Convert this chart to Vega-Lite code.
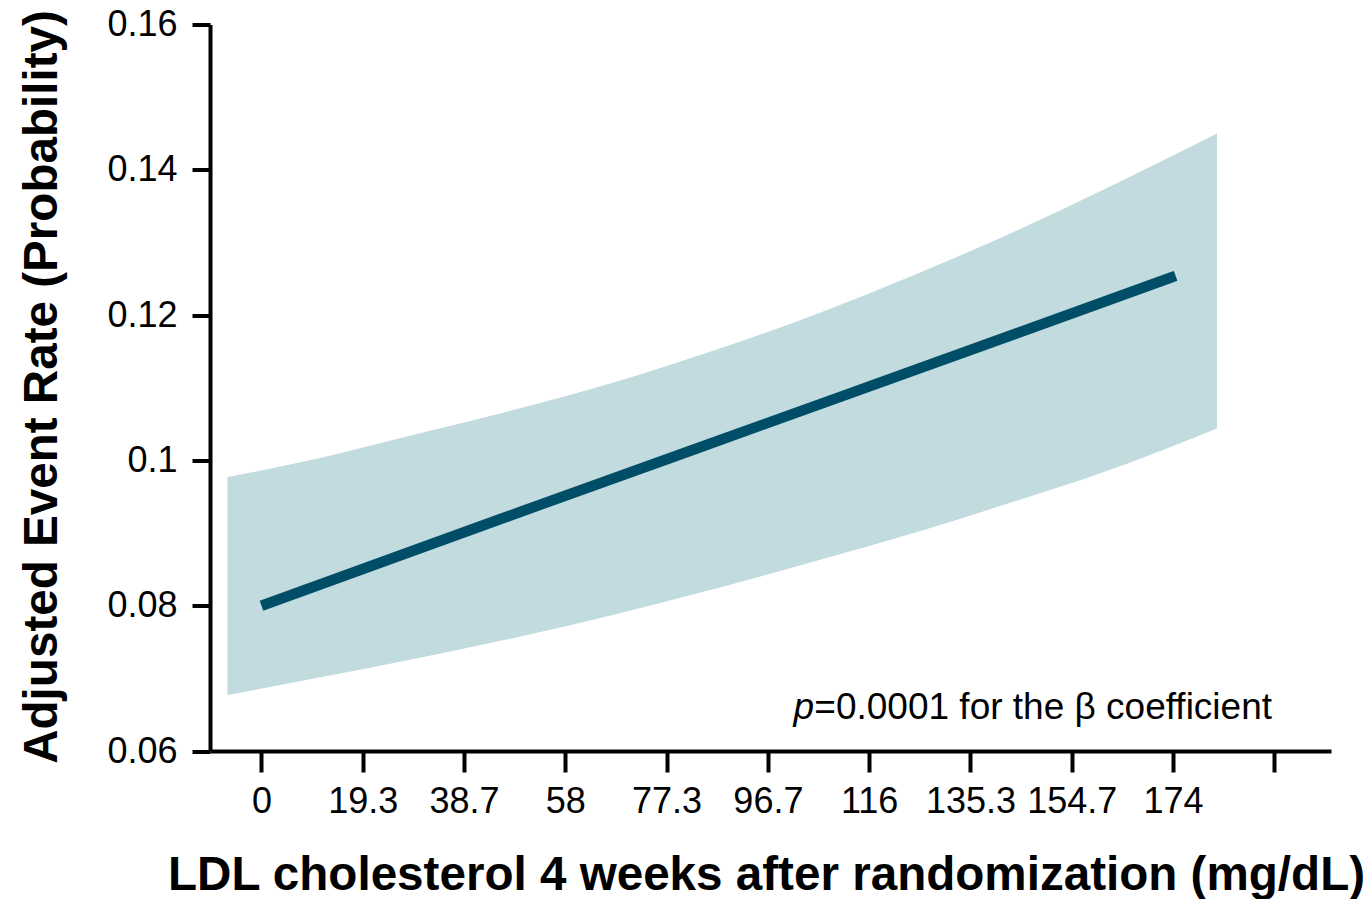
{
  "$schema": "https://vega.github.io/schema/vega-lite/v6.json",
  "width": 1121,
  "height": 726.5,
  "autosize": {"type": "none"},
  "padding": {"left": 210, "top": 24.5, "right": 39, "bottom": 148},
  "background": "white",
  "config": {
    "view": {"stroke": null},
    "font": "Liberation Sans",
    "axis": {
      "grid": false,
      "domainColor": "black",
      "domainWidth": 4,
      "tickColor": "black",
      "tickWidth": 4,
      "labelColor": "black",
      "labelFont": "Liberation Sans",
      "labelFontSize": 36,
      "labelOverlap": false,
      "labelFlush": false,
      "labelBound": false,
      "titleColor": "black",
      "titleFont": "Liberation Sans",
      "titleFontSize": 47.6,
      "titleFontWeight": "bold"
    }
  },
  "datasets": {
    "band": [
      {"ldl": -6.5, "lower": 0.0677, "upper": 0.0977},
      {"ldl": 11, "lower": 0.0701, "upper": 0.1003},
      {"ldl": 30, "lower": 0.0728, "upper": 0.1037},
      {"ldl": 49, "lower": 0.0757, "upper": 0.1071},
      {"ldl": 68, "lower": 0.0789, "upper": 0.1109},
      {"ldl": 87.5, "lower": 0.0825, "upper": 0.1154},
      {"ldl": 106.5, "lower": 0.0863, "upper": 0.1203},
      {"ldl": 125.5, "lower": 0.0902, "upper": 0.1258},
      {"ldl": 143.5, "lower": 0.0943, "upper": 0.1314},
      {"ldl": 160, "lower": 0.0982, "upper": 0.1370},
      {"ldl": 182.4, "lower": 0.1044, "upper": 0.1450}
    ],
    "fit": [
      {"ldl": 0, "rate": 0.0800},
      {"ldl": 45.5, "rate": 0.0919},
      {"ldl": 105.3, "rate": 0.1074},
      {"ldl": 144.2, "rate": 0.1175},
      {"ldl": 174.5, "rate": 0.1254}
    ]
  },
  "layer": [
    {
      "data": {"name": "band"},
      "mark": {"type": "area", "color": "#C1DBDF", "opacity": 1, "interpolate": "monotone"},
      "encoding": {
        "x": {
          "field": "ldl",
          "type": "quantitative",
          "scale": {"domain": [-9.83, 204.16], "nice": false, "zero": false},
          "axis": {
            "title": "LDL cholesterol 4 weeks after randomization (mg/dL)",
            "values": [0, 19.333333, 38.666667, 58, 77.333333, 96.666667, 116, 135.333333, 154.666667, 174, 193.333333],
            "labelExpr": "datum.value > 190 ? '' : format(datum.value, '.1~f')",
            "tickSize": 21,
            "labelPadding": 40,
            "labelBaseline": "alphabetic",
            "titleX": 556,
            "titleY": 138,
            "titleAlign": "center",
            "titleBaseline": "alphabetic"
          }
        },
        "y": {
          "field": "lower",
          "type": "quantitative",
          "scale": {"domain": [0.06, 0.16], "nice": false, "zero": false},
          "axis": {
            "title": "Adjusted Event Rate (Probability)",
            "values": [0.06, 0.08, 0.1, 0.12, 0.14, 0.16],
            "format": ".2~f",
            "tickSize": 18,
            "labelPadding": 15,
            "titleAngle": -90,
            "titleX": -154,
            "titleY": 362,
            "titleAlign": "center",
            "titleBaseline": "alphabetic"
          }
        },
        "y2": {"field": "upper"}
      }
    },
    {
      "data": {"name": "fit"},
      "mark": {"type": "line", "color": "#004D68", "strokeWidth": 10.5, "strokeCap": "butt", "interpolate": "monotone"},
      "encoding": {
        "x": {"field": "ldl", "type": "quantitative"},
        "y": {"field": "rate", "type": "quantitative"}
      }
    },
    {
      "data": {"values": [{"label": "=0.0001 for the β coefficient"}]},
      "mark": {"type": "text", "align": "right", "baseline": "alphabetic", "fontSize": 37, "font": "Liberation Sans", "color": "black"},
      "encoding": {
        "x": {"datum": 192.9, "type": "quantitative"},
        "y": {"datum": 0.0644, "type": "quantitative"},
        "text": {"field": "label"}
      }
    },
    {
      "data": {"values": [{"label": "p"}]},
      "mark": {"type": "text", "align": "right", "baseline": "alphabetic", "fontSize": 37, "font": "Liberation Sans", "fontStyle": "italic", "color": "black"},
      "encoding": {
        "x": {"datum": 105.5, "type": "quantitative"},
        "y": {"datum": 0.0644, "type": "quantitative"},
        "text": {"field": "label"}
      }
    }
  ]
}
